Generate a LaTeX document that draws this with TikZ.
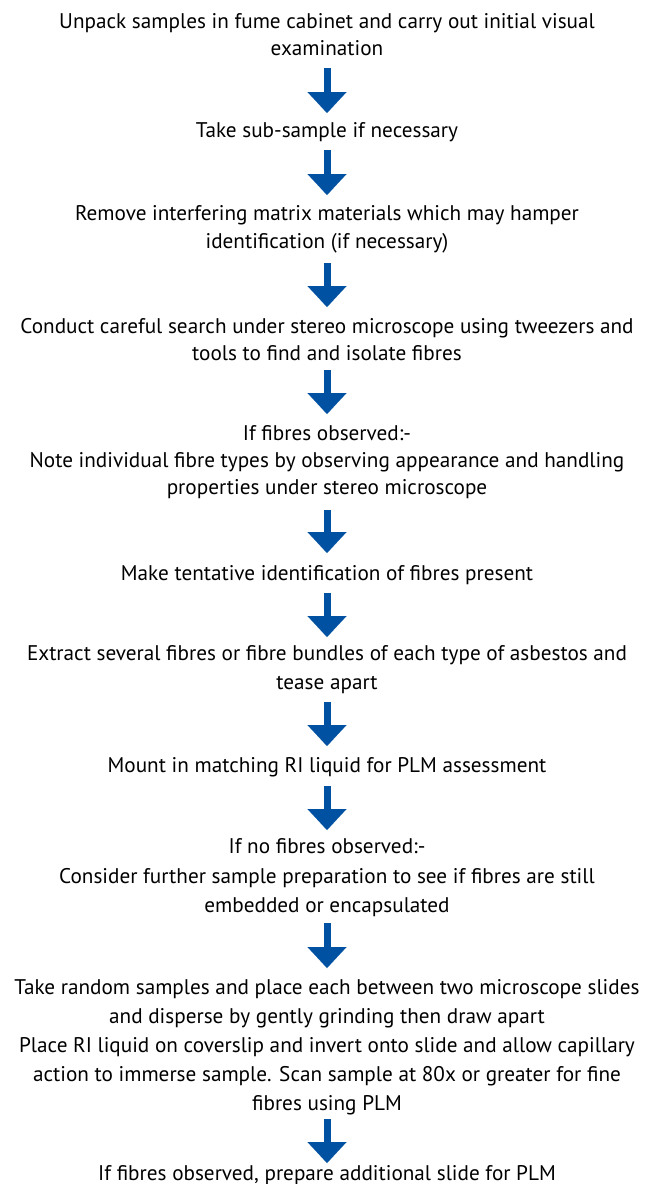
\documentclass[tikz,border=0pt]{standalone}
\usepackage{fontspec}
\setmainfont{PT Sans}
\usetikzlibrary{arrows.meta}
\definecolor{arrowblue}{RGB}{0,81,161}
\tikzset{
  steptext/.style={anchor=base, inner sep=0pt, font=\fontsize{21.2}{25}\selectfont, text=black},
  flowarrow/.style={draw=arrowblue, line width=7pt, -{Triangle[width=39pt,length=21pt,line width=0.01pt]}}
}
\begin{document}
\begin{tikzpicture}[x=1pt,y=-1pt]
\useasboundingbox (0,0) rectangle (648,1184);
\node[steptext] (t1a) at (327,28) {Unpack samples in fume cabinet and carry out initial visual};
\node[steptext] (t1b) at (327,55) {examination};
\node[steptext] (t2) at (327,137) {Take sub-sample if necessary};
\node[steptext] (t3a) at (327,220) {Remove interfering matrix materials which may hamper};
\node[steptext] (t3b) at (327,248) {identification (if necessary)};
\node[steptext] (t4a) at (327,333) {Conduct careful search under stereo microscope using tweezers and};
\node[steptext] (t4b) at (327,360) {tools to find and isolate fibres};
\node[steptext] (t5a) at (327,440) {If fibres observed:-};
\node[steptext] (t5b) at (327,467) {Note individual fibre types by observing appearance and handling};
\node[steptext] (t5c) at (327,494) {properties under stereo microscope};
\node[steptext] (t6) at (327,580) {Make tentative identification of fibres present};
\node[steptext] (t7a) at (327,660) {Extract several fibres or fibre bundles of each type of asbestos and};
\node[steptext] (t7b) at (327,689) {tease apart};
\node[steptext] (t8) at (327,772) {Mount in matching RI liquid for PLM assessment};
\node[steptext] (t9a) at (327,853) {If no fibres observed:-};
\node[steptext] (t9b) at (327,883) {Consider further sample preparation to see if fibres are still};
\node[steptext] (t9c) at (327,912) {embedded or encapsulated};
\node[steptext] (t10a) at (327,994) {Take random samples and place each between two microscope slides};
\node[steptext] (t10b) at (327,1023) {and disperse by gently grinding then draw apart};
\node[steptext] (t10c) at (327,1052) {Place RI liquid on coverslip and invert onto slide and allow capillary};
\node[steptext] (t10d) at (327,1081) {action to immerse sample. Scan sample at 80x or greater for fine};
\node[steptext] (t10e) at (327,1110) {fibres using PLM};
\node[steptext] (t11) at (327,1180) {If fibres observed, prepare additional slide for PLM};
\draw[flowarrow] ([yshift=-13pt]t1b.base) -- ([yshift=24pt]t2.base);
\draw[flowarrow] ([yshift=-13pt]t2.base) -- ([yshift=25pt]t3a.base);
\draw[flowarrow] ([yshift=-15pt]t3b.base) -- ([yshift=26pt]t4a.base);
\draw[flowarrow] ([yshift=-10pt]t4b.base) -- ([yshift=26pt]t5a.base);
\draw[flowarrow] ([yshift=-16pt]t5c.base) -- ([yshift=27pt]t6.base);
\draw[flowarrow] ([yshift=-13pt]t6.base) -- ([yshift=23pt]t7a.base);
\draw[flowarrow] ([yshift=-13pt]t7b.base) -- ([yshift=26pt]t8.base);
\draw[flowarrow] ([yshift=-14pt]t8.base) -- ([yshift=23pt]t9a.base);
\draw[flowarrow] ([yshift=-11pt]t9c.base) -- ([yshift=26pt]t10a.base);
\draw[flowarrow] ([yshift=-9pt]t10e.base) -- ([yshift=17pt]t11.base);
\end{tikzpicture}
\end{document}
